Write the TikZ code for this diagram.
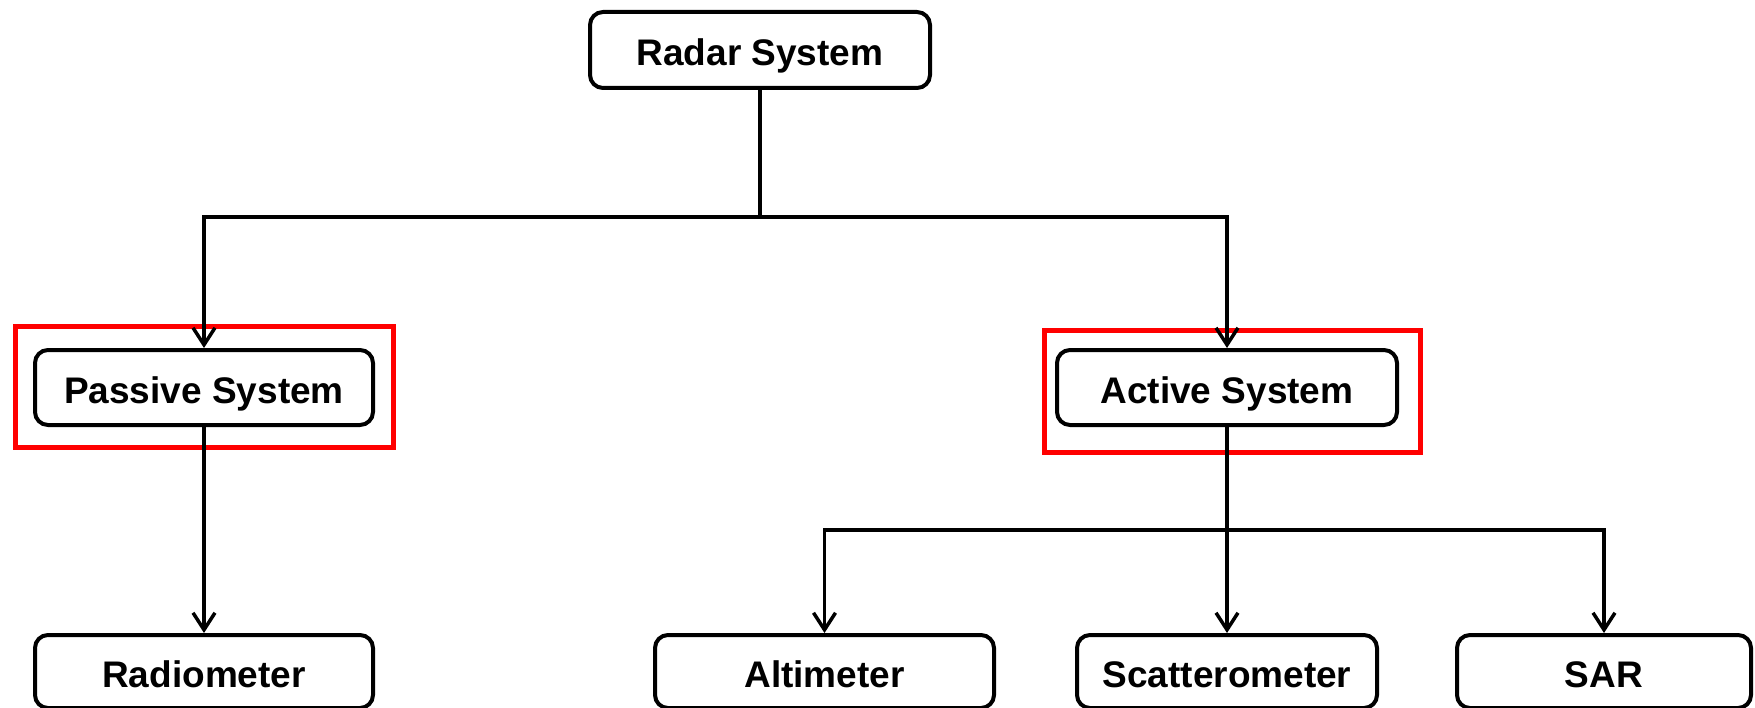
\documentclass[tikz,border=0pt]{standalone}
\usepackage{fontspec}
\setmainfont{Liberation Sans}
\usetikzlibrary{arrows.meta,positioning}
\begin{document}
\begin{tikzpicture}[x=1pt,y=-1pt,
  box/.style={draw=black,line width=4pt,rounded corners=13pt,fill=white,
    font=\fontsize{37}{41}\selectfont\bfseries,text height=31.5pt,text depth=0pt,inner sep=0pt},
  redframe/.style={draw=red,line width=5pt,inner sep=0pt},
  conn/.style={draw=black,line width=3.5pt},
  arr/.style={conn,-{Straight Barb[length=17pt,width=22pt]}}]
\useasboundingbox (0,0) rectangle (1755,708);
% red frames
\node[redframe,minimum width=378pt,minimum height=121pt] (rp) at (204.5,387) {};
\node[redframe,minimum width=376pt,minimum height=122pt] (ra) at (1232.5,391.5) {};
% boxes
\node[box,minimum width=340pt,minimum height=76pt] (radar) at (760,50) {Radar System};
\node[box,minimum width=338pt,minimum height=75pt] (passive) at (204,387.5) {Passive System};
\node[box,minimum width=340pt,minimum height=75pt] (active) at (1227,387.5) {Active System};
\node[box,minimum width=338pt,minimum height=73pt] (radio) at (204,671.5) {Radiometer};
\node[box,minimum width=339pt,minimum height=73pt] (alti) at (824.5,671.5) {Altimeter};
\node[box,minimum width=300pt,minimum height=73pt] (scat) at (1227,671.5) {Scatterometer};
\node[box,minimum width=294pt,minimum height=73pt] (sar) at (1604,671.5) {SAR};
% junction coordinates
\coordinate (j1) at (760,217);
\coordinate (j2) at (1227,530);
% connectors
\draw[conn] (radar.south) -- (j1);
\draw[arr] (j1) -| (passive.north);
\draw[arr] (j1) -| (active.north);
\draw[arr] (passive.south) -- (radio.north);
\draw[conn] (active.south) -- (j2);
\draw[arr] (j2) -| (alti.north);
\draw[arr] (j2) -- (scat.north);
\draw[arr] (j2) -| (sar.north);
\end{tikzpicture}
\end{document}
